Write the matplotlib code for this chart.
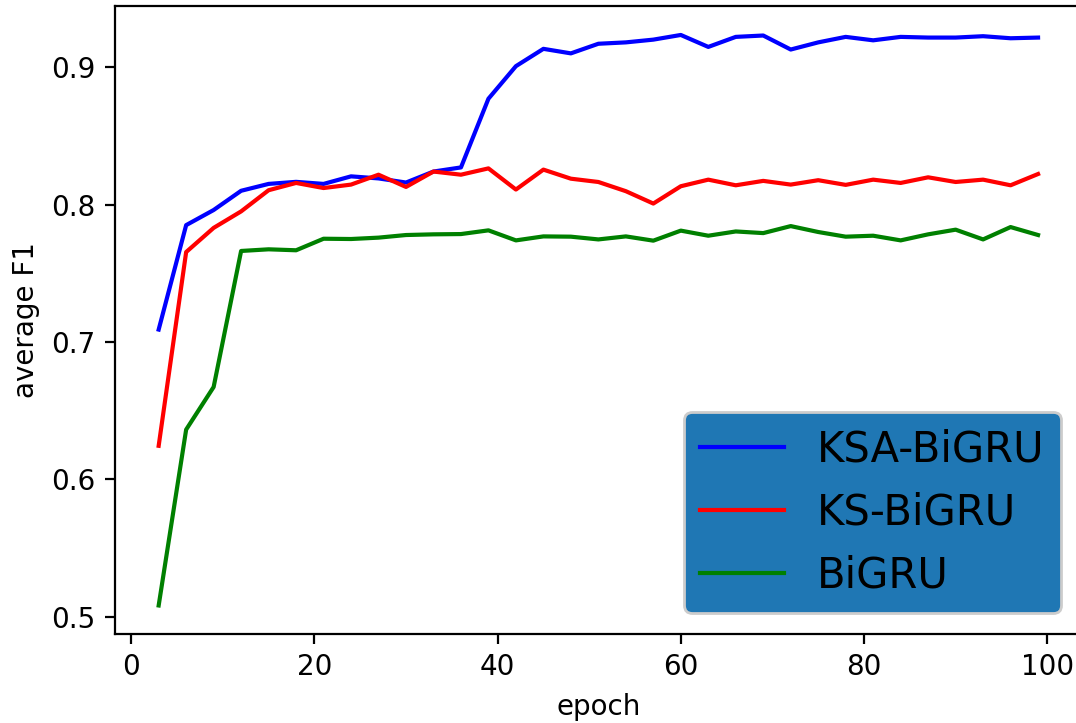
import matplotlib
matplotlib.use('Agg')
import matplotlib.pyplot as plt

# эпохи, значения снимались каждые 3 эпохи
epochs = list(range(3, 100, 3))

ksa_bigru = [0.709, 0.785, 0.796, 0.810, 0.815, 0.8165, 0.815, 0.8205, 0.819, 0.816, 0.824,
             0.827, 0.877, 0.9007, 0.9133, 0.910, 0.917, 0.918, 0.920, 0.9234, 0.9147, 0.922,
             0.923, 0.9128, 0.918, 0.922, 0.9195, 0.922, 0.9215, 0.9215, 0.9225, 0.921, 0.9215]

ks_bigru = [0.6244, 0.7654, 0.783, 0.795, 0.8104, 0.8157, 0.812, 0.8145, 0.8217, 0.8128, 0.824,
            0.8217, 0.8263, 0.8109, 0.8254, 0.8188, 0.8164, 0.8097, 0.8007, 0.8133, 0.8181, 0.814,
            0.8172, 0.8145, 0.8177, 0.8143, 0.8181, 0.8157, 0.8198, 0.8164, 0.8181, 0.814, 0.8222]

bigru = [0.5082, 0.6362, 0.6672, 0.7662, 0.7674, 0.7667, 0.7751, 0.7749, 0.7759, 0.7778, 0.7783,
         0.7785, 0.7812, 0.7739, 0.7768, 0.7766, 0.7746, 0.7768, 0.7737, 0.781, 0.7773, 0.7804,
         0.7792, 0.7843, 0.780, 0.7766, 0.7773, 0.7739, 0.7783, 0.7817, 0.7746, 0.7836, 0.7778]

fig = plt.figure(figsize=(1076 / 200, 723 / 200), dpi=200)
ax = fig.add_axes([0.1066, 0.1231, 0.899, 0.868])

ax.plot(epochs, ksa_bigru, color='blue', linewidth=1.5, label='KSA-BiGRU')
ax.plot(epochs, ks_bigru, color='red', linewidth=1.5, label='KS-BiGRU')
ax.plot(epochs, bigru, color='green', linewidth=1.5, label='BiGRU')

ax.set_xlabel('epoch')
ax.set_ylabel('average F1')
ax.set_xticks([0, 20, 40, 60, 80, 100])
ax.set_yticks([0.5, 0.6, 0.7, 0.8, 0.9])

ax.legend(loc='lower right', fontsize=15, facecolor='#1f77b4', framealpha=1)

fig.savefig('out.png', dpi=200)
